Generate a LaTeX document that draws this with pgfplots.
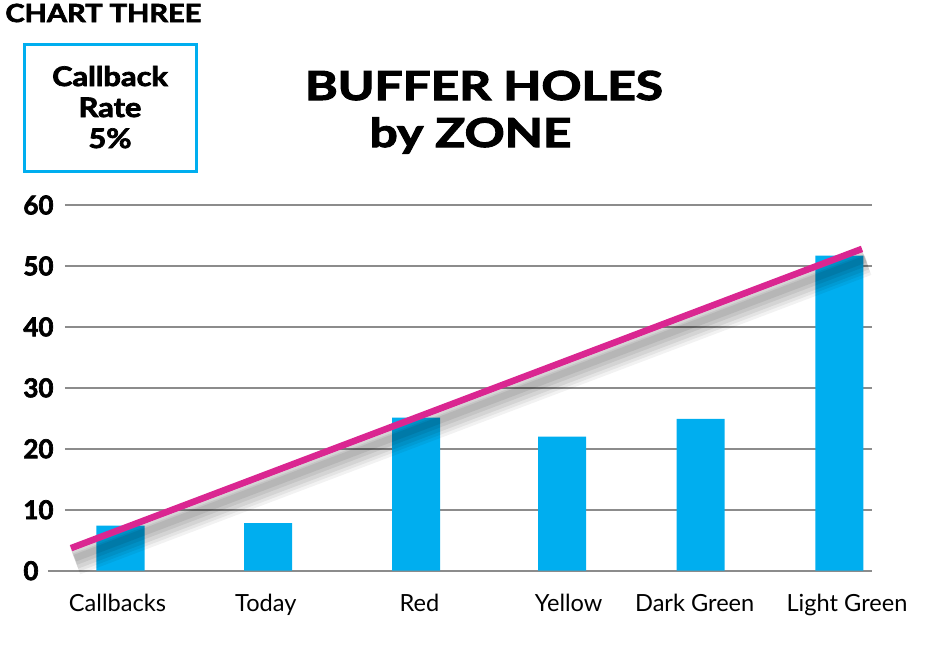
\documentclass[border=0pt]{standalone}
\usepackage{fontspec}
\setmainfont{Lato}
\newfontfamily\heavy{Lato}[BoldFeatures={FakeBold=2.5}]
\usepackage{pgfplots}
\pgfplotsset{compat=1.18}

\definecolor{barcyan}{RGB}{0,174,239}
\definecolor{trendpink}{RGB}{218,38,145}
\definecolor{gridgray}{RGB}{140,140,140}

% bar centres in image pixels (x)
\pgfplotstableread{
x      y
120.5  7.4
268    7.8
416    25.1
562    22.0
700.5  24.9
839.3  51.7
}\zonedata

\pgfplotstableread{
x     y
71    3.7
862   52.8
}\trenddata

\begin{document}
\begin{tikzpicture}
\useasboundingbox (0,0) rectangle (467.5pt,-322.5pt);
\begin{axis}[
    at={(32.5pt,-285.35pt)}, anchor=south west,
    x=0.5pt, y=3.0475pt,
    xmin=65, xmax=872, ymin=0, ymax=60,
    clip=false,
    axis line style={draw=none},
    major tick length=0pt,
    ytick={0,10,...,60},
    ymajorgrids,
    grid style={gridgray, line width=1pt},
    xtick={117.5,265.8,419.5,568.7,694.7,847},
    xticklabels={Callbacks,Today,Red,Yellow,Dark Green,Light Green},
    xticklabel style={font=\fontsize{11.8}{13}\selectfont, yshift=-8pt},
    yticklabel style={font=\fontsize{13}{15}\selectfont\heavy\bfseries,
        anchor=west, inner sep=0pt, xshift=-21pt},
    /pgf/number format/assume math mode=true,
]
\draw[gridgray, line width=1pt] (axis cs:48,0) -- (axis cs:65,0);
\addplot[ybar, bar width=24pt, bar shift=0pt, fill=barcyan, draw=none] table[x=x,y=y] {\zonedata};
% soft shadow of the trend line
\addplot[black, opacity=0.05, line width=15pt, shift={(2pt,-6pt)}] table[x=x,y=y] {\trenddata};
\addplot[black, opacity=0.06, line width=12pt, shift={(2pt,-6pt)}] table[x=x,y=y] {\trenddata};
\addplot[black, opacity=0.07, line width=9pt, shift={(2pt,-6pt)}] table[x=x,y=y] {\trenddata};
\addplot[black, opacity=0.07, line width=6pt, shift={(2pt,-5.5pt)}] table[x=x,y=y] {\trenddata};
\addplot[black, opacity=0.08, line width=3.5pt, shift={(2pt,-5pt)}] table[x=x,y=y] {\trenddata};
\addplot[trendpink, line width=3.3pt] table[x=x,y=y] {\trenddata};
\end{axis}
\begin{scope}[x=0.5pt, y=-0.5pt]
\node[anchor=base west, inner sep=0pt, font=\fontsize{12.5}{14}\selectfont\heavy\bfseries] at (5,22) {\scalebox{1.16}[1]{CHART THREE}};
\draw[barcyan, line width=1.5pt] (24,44) rectangle (196,171);
\node[anchor=base, inner sep=0pt, font=\fontsize{13.5}{15}\selectfont\heavy\bfseries] at (110,86) {\scalebox{1.14}[1]{Callback}};
\node[anchor=base, inner sep=0pt, font=\fontsize{13.5}{15}\selectfont\heavy\bfseries] at (110,117) {\scalebox{1.14}[1]{Rate}};
\node[anchor=base, inner sep=0pt, font=\fontsize{13.5}{15}\selectfont\heavy\bfseries] at (110,148) {\scalebox{1.14}[1]{5\%}};
\node[anchor=base, inner sep=0pt, font=\fontsize{20}{22}\selectfont\heavy\bfseries] at (484,100) {\scalebox{1.24}[1]{BUFFER HOLES}};
\node[anchor=base, inner sep=0pt, font=\fontsize{20}{22}\selectfont\heavy\bfseries] at (470.5,147) {\scalebox{1.24}[1]{by ZONE}};
\end{scope}
\end{tikzpicture}
\end{document}
